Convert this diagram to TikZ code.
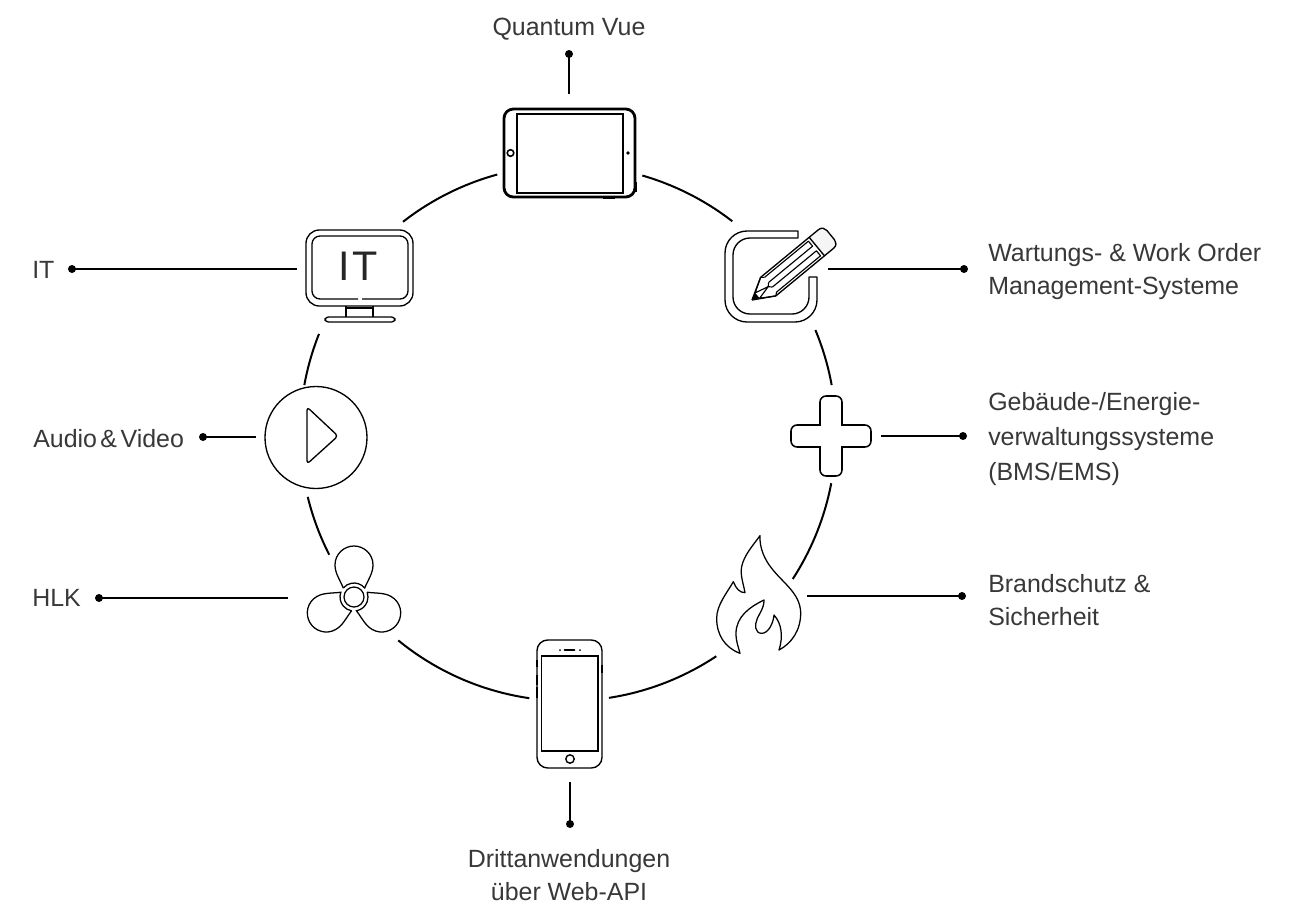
\documentclass[tikz,border=0pt]{standalone}
\usepackage{fontspec}
\setmainfont{Liberation Sans}
\begin{document}
\begin{tikzpicture}[x=0.75pt,y=-0.75pt,
  ringarc/.style={line width=1.5pt,black},
  iconline/.style={line width=1pt,black,line join=round},
  iconthin/.style={line width=0.85pt,black,line join=round},
  lead/.style={line width=1.35pt,black},
  dotmark/.style={circle,fill=black,inner sep=0pt,minimum size=6pt},
  lbl/.style={font=\fontsize{18.7}{25.2}\selectfont,text=black!78,inner sep=0pt,align=left,anchor=west},
  lblc/.style={font=\fontsize{18.7}{25.2}\selectfont,text=black!78,inner sep=0pt,align=center,anchor=center}]
\useasboundingbox (0,0) rectangle (1304,904);
\fill[white] (0,0) rectangle (1304,904);
\coordinate (ring) at (568,433);
% ring
\foreach \a/\b in {-73.9/-52.2,-22.6/-10.3,10.8/33,56.4/81.2,98.3/129.3,153/166.2,190.3/201.7,232/254.7}
  \draw[ringarc] (ring) ++(\a:268) arc[start angle=\a,end angle=\b,radius=268];

% tablet
\draw[line width=2.1pt,rounded corners=7] (504,109) rectangle (635,197);
\draw[line width=1.5pt] (517,114) rectangle (623,193);
\draw[line width=1.2pt] (510.5,153) circle (3.3);
\fill (628,153) circle (1.8);
\draw[line width=1.6pt] (635.5,182) -- (635.5,192);
\draw[line width=1pt] (603,198) -- (615,198);

% notepad
\draw[iconline] (798,231) -- (747,231) arc[start angle=270,end angle=180,radius=22] -- (725,300)
  arc[start angle=180,end angle=90,radius=22] -- (795,322) arc[start angle=90,end angle=0,radius=22] -- (817,277) -- (809,277)
  -- (809,297) arc[start angle=0,end angle=90,radius=17] -- (750,314) arc[start angle=90,end angle=180,radius=17]
  -- (733,255) arc[start angle=180,end angle=270,radius=17] -- (798,238) -- cycle;
% pencil
\begin{scope}[shift={(752,300)},rotate=39.5]
  \draw[iconline,fill=black!4] (84,-12) -- (96,-12) .. controls (100,-12) and (102,-9) .. (102,-6) -- (102,6) .. controls (102,9) and (100,12) .. (96,12) -- (84,12) -- cycle;
  \draw[iconline] (0,0) -- (21,-12) -- (84,-12) (0,0) -- (21,12) -- (84,12);
  \draw[iconthin] (24,-9.5) -- (81,-9.5) -- (81,-3) -- (24,-3);
  \draw[iconthin] (24,9.5) -- (81,9.5) -- (81,3) -- (24,3);
  \draw[iconthin] (21,-12) -- (24,-9.5) (24,-3) -- (21,0) -- (24,3) (24,9.5) -- (21,12);
  \draw[iconthin] (21,0) -- (7,-3.5) (21,0) -- (7,3.5) (21,-12) -- (7,-3.5) (21,12) -- (7,3.5);
  \fill (0,0) -- (7,-3.5) -- (7,3.5) -- cycle;
\end{scope}

% monitor
\draw[iconline,rounded corners=10] (306,230) rectangle (413,306);
\draw[iconline] (358,299) -- (320,299) arc[start angle=90,end angle=180,radius=8] -- (312,244) arc[start angle=180,end angle=270,radius=8] -- (400,236) arc[start angle=270,end angle=360,radius=8] -- (408,291) arc[start angle=0,end angle=90,radius=8] -- (362,299);
\draw[iconline] (346,306) -- (346,317) (373,306) -- (373,317) (346,308) -- (373,308);
\draw[iconline,rounded corners=2.5] (325,317) rectangle (395,322);
\node[font=\fontsize{31}{31}\selectfont,text=black!85,inner sep=0pt,anchor=center] (ittext) at (358.5,266) {I\kern.06em T};

% play
\draw[line width=1pt] (316,437.5) circle (51);
\draw[iconline,rounded corners=2.5] (307,407) -- (338,436) -- (307,464) -- cycle;

% cross: rounded outer corners, sharp inner corners
\draw[line width=1.15pt,line join=miter]
  (820,425) -- (820,402) arc[start angle=180,end angle=270,radius=6] -- (836,396) arc[start angle=270,end angle=360,radius=6]
  -- (842,425) -- (865,425) arc[start angle=270,end angle=360,radius=6] -- (871,441) arc[start angle=0,end angle=90,radius=6]
  -- (842,447) -- (842,470) arc[start angle=0,end angle=90,radius=6] -- (826,476) arc[start angle=90,end angle=180,radius=6]
  -- (820,447) -- (797,447) arc[start angle=90,end angle=180,radius=6] -- (791,431) arc[start angle=180,end angle=270,radius=6] -- cycle;

% fan
\begin{scope}[shift={(354,597)}]
  \draw[line width=0.95pt] (0,0) circle (10);
  \foreach \r in {0,120,240}
    \draw[line width=0.95pt,rotate=\r] (-10.7,-9) .. controls (-14.5,-18) and (-19,-24) .. (-19,-32) .. controls (-19,-43) and (-10,-51) .. (0,-51) .. controls (10,-51) and (19,-43) .. (19,-32) .. controls (19,-24) and (14.5,-18) .. (10.7,-9) arc[start angle=-40,end angle=-140,radius=14];
\end{scope}

% flame
\begin{scope}[shift={(700,525)},x=0.25pt,y=-0.25pt]
  \draw[line width=0.95pt,line join=round]
   (180,32) .. controls (178,70) and (195,105) .. (215,130)
   .. controls (250,175) and (300,205) .. (302,262)
   .. controls (303,315) and (275,355) .. (237,375)
   .. controls (250,335) and (245,295) .. (222,270)
   .. controls (220,295) and (205,325) .. (185,325)
   .. controls (165,325) and (163,300) .. (172,280)
   .. controls (180,262) and (192,250) .. (192,225)
   .. controls (150,245) and (108,275) .. (108,325)
   .. controls (108,350) and (115,365) .. (120,385)
   .. controls (75,368) and (50,330) .. (50,280)
   .. controls (50,240) and (80,205) .. (100,170)
   .. controls (108,190) and (118,203) .. (135,203)
   .. controls (130,175) and (120,150) .. (125,125)
   .. controls (132,90) and (160,60) .. (180,32) -- cycle;
\end{scope}

% phone
\draw[line width=1.05pt,rounded corners=8] (537,640) rectangle (602,768);
\draw[line width=1.05pt] (541.7,656) rectangle (598,751);
\draw[line width=1.4pt,line cap=round] (564.5,650) -- (574.5,650);
\fill (560,650) circle (1) (580,650) circle (1);
\draw[line width=1.05pt] (570,759) circle (4.2);
\draw[line width=1.5pt] (537,660) -- (537,667) (537,675) -- (537,685) (537,687) -- (537,698) (602,665) -- (602,673);

% labels
\node[lblc] (lq) at (569,29) {Quantum Vue};
\node[lbl] (lit) at (32,270) {IT};
\node[lbl] (lw) at (988,271.5) {Wartungs- \& Work Order\\Management-Systeme};
\node[lbl] (lg) at (988,439) {Gebäude-/Energie-\\[0.8pt]verwaltungssysteme\\[0.8pt](BMS/EMS)};
\node[lbl] (la) at (33,439) {Audio\kern.14em\ \kern-.14em\kern-.14em\&\kern.14em Video};
\node[lbl] (lh) at (32,598) {HLK};
\node[lbl] (lb) at (988,600) {Brandschutz \&\\Sicherheit};
\node[lblc] (ld) at (569,875) {Drittanwendungen\\über Web-API};

% leaders
\foreach \n/\dx/\dy/\ex/\ey in {q/569/54/569/94,i/72/269/297/269,w/964/269/828/269,g/963/436/881/436,a/203/437/256/437,h/99/598/288/598,b/962/596/807/596,d/570/824/570/782}{
  \node[dotmark] (dot\n) at (\dx,\dy) {};
  \coordinate (end\n) at (\ex,\ey);
  \draw[lead] (dot\n.center) -- (end\n);
}
\end{tikzpicture}
\end{document}
